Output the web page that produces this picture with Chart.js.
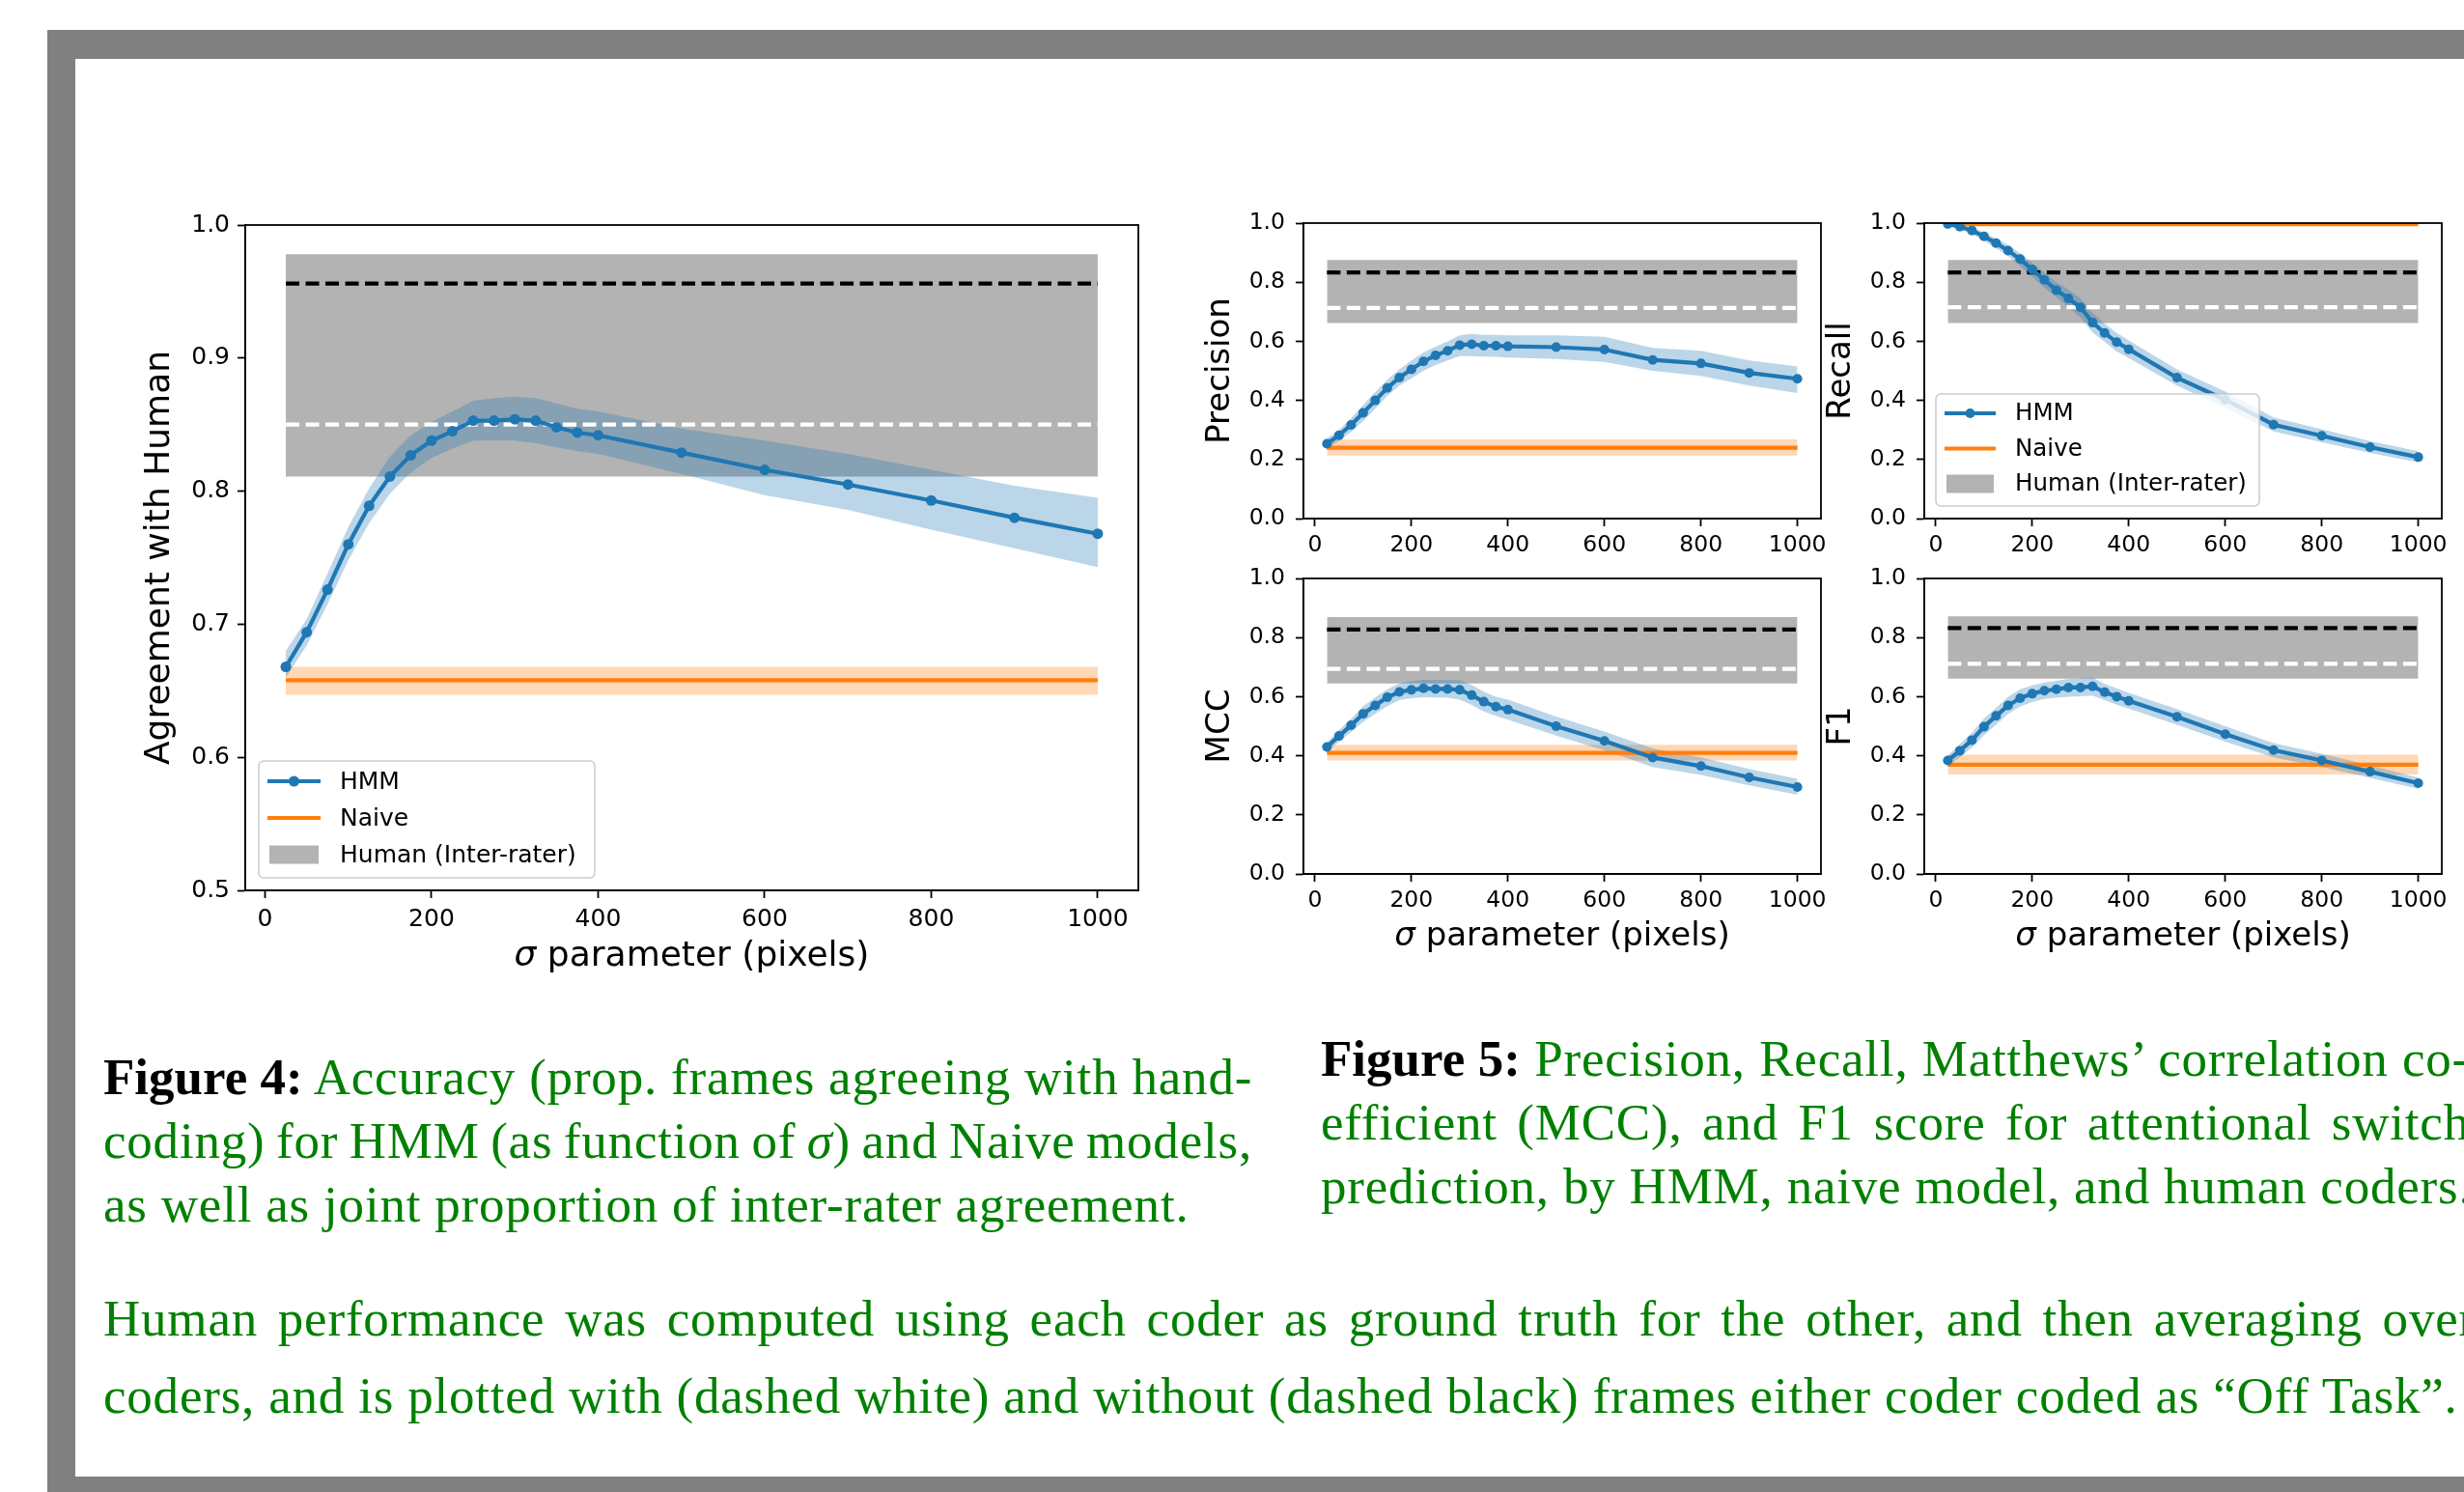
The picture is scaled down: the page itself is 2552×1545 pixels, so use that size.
<!DOCTYPE html>
<html>
<head>
<meta charset="utf-8">
<script src="https://cdn.jsdelivr.net/npm/chart.js@4.4.0/dist/chart.umd.min.js"></script>
<style>
html, body { margin: 0; padding: 0; background: #fff; width: 2552px; height: 1545px; overflow: hidden; }
#frame { position: absolute; left: 49px; top: 31px; width: 2600px; height: 1600px; background: #808080; }
#page { position: absolute; left: 78px; top: 61px; width: 2600px; height: 1468px; background: #fff; }
canvas { position: absolute; }
.cap { position: absolute; font-family: 'Liberation Serif', 'Times New Roman', serif; font-size: 53px; letter-spacing: 0.8px; color: #008000; }
.cap div { white-space: nowrap; text-align: justify; text-align-last: justify; }
.cap div.last { text-align-last: left; }
.cap div.tight { word-spacing: -4px; }
.cap b { color: #000; letter-spacing: 0; }
</style>
</head>
<body>
<div id="frame"></div>
<div id="page"></div>

<canvas id="accuracy" width="1100" height="819" style="left:124px;top:203px"></canvas>
<canvas id="precision" width="696" height="436" style="left:1230px;top:201px"></canvas>
<canvas id="recall" width="696" height="436" style="left:1873px;top:201px"></canvas>
<canvas id="mcc" width="696" height="436" style="left:1230px;top:569px"></canvas>
<canvas id="f1" width="696" height="436" style="left:1873px;top:569px"></canvas>

<div class="cap" style="left:107px;top:1082px;width:1190px;line-height:66px">
  <div><b>Figure 4:</b> Accuracy (prop. frames agreeing with hand-</div>
  <div class="tight">coding) for HMM (as function of <i>σ</i>) and Naive models,</div>
  <div class="last">as well as joint proportion of inter-rater agreement.</div>
</div>
<div class="cap" style="left:1368px;top:1063px;width:1190px;line-height:66px">
  <div><b>Figure 5:</b> Precision, Recall, Matthews’ correlation co-</div>
  <div>efficient (MCC), and F1 score for attentional switch</div>
  <div class="last">prediction, by HMM, naive model, and human coders.</div>
</div>
<div class="cap" style="left:107px;top:1325px;width:2458px;line-height:80px">
  <div>Human performance was computed using each coder as ground truth for the other, and then averaging over</div>
  <div class="last">coders, and is plotted with (dashed white) and without (dashed black) frames either coder coded as “Off Task”.</div>
</div>

<script>
const sigma = [25, 50, 75, 100, 125, 150, 175, 200, 225, 250, 275, 300, 325, 350, 375, 400, 500, 600, 700, 800, 900, 1000];
const xTicks = [0, 200, 400, 600, 800, 1000];
const accTicks = [0.5, 0.6, 0.7, 0.8, 0.9, 1.0];
const scoreTicks = [0.0, 0.2, 0.4, 0.6, 0.8, 1.0];
const legendLabels = ['HMM', 'Naive', 'Human (Inter-rater)'];

// accuracy (figure 4)
const accHmm   = [0.668, 0.694, 0.726, 0.760, 0.789, 0.811, 0.827, 0.838, 0.845, 0.853, 0.853, 0.854, 0.853, 0.848, 0.844, 0.842, 0.829, 0.816, 0.805, 0.793, 0.780, 0.768];
const accHmmLo = [0.660, 0.684, 0.715, 0.748, 0.776, 0.798, 0.814, 0.825, 0.832, 0.838, 0.838, 0.838, 0.836, 0.833, 0.830, 0.828, 0.813, 0.797, 0.786, 0.771, 0.757, 0.743];
const accHmmHi = [0.680, 0.704, 0.738, 0.773, 0.802, 0.826, 0.842, 0.852, 0.860, 0.868, 0.870, 0.871, 0.870, 0.866, 0.862, 0.860, 0.847, 0.838, 0.828, 0.816, 0.804, 0.795];
const accNaive = [0.658, 0.647, 0.668];          // line, band low, band high
const accHuman = [0.811, 0.978, 0.956, 0.850];   // band low, band high, dashed black, dashed white

// precision
const precHmm   = [0.253, 0.282, 0.317, 0.358, 0.400, 0.442, 0.477, 0.505, 0.532, 0.552, 0.568, 0.587, 0.590, 0.585, 0.585, 0.583, 0.580, 0.572, 0.537, 0.525, 0.493, 0.473];
const precHmmLo = [0.237, 0.262, 0.293, 0.330, 0.372, 0.415, 0.450, 0.475, 0.500, 0.520, 0.535, 0.550, 0.550, 0.548, 0.547, 0.545, 0.540, 0.530, 0.500, 0.483, 0.450, 0.425];
const precHmmHi = [0.272, 0.300, 0.340, 0.385, 0.428, 0.470, 0.505, 0.535, 0.562, 0.582, 0.600, 0.620, 0.625, 0.622, 0.622, 0.620, 0.620, 0.615, 0.578, 0.568, 0.535, 0.515];
const precNaive = [0.240, 0.213, 0.268];
const precHuman = [0.662, 0.875, 0.833, 0.713];

// recall
const recHmm   = [0.997, 0.988, 0.975, 0.955, 0.932, 0.907, 0.878, 0.843, 0.808, 0.773, 0.745, 0.715, 0.663, 0.628, 0.597, 0.573, 0.477, 0.402, 0.318, 0.280, 0.242, 0.208];
const recHmmLo = [0.990, 0.980, 0.963, 0.940, 0.915, 0.888, 0.855, 0.818, 0.782, 0.748, 0.715, 0.680, 0.630, 0.598, 0.565, 0.543, 0.450, 0.375, 0.295, 0.258, 0.222, 0.190];
const recHmmHi = [1.000, 0.995, 0.985, 0.968, 0.948, 0.926, 0.898, 0.865, 0.832, 0.800, 0.775, 0.745, 0.695, 0.660, 0.628, 0.603, 0.505, 0.430, 0.342, 0.302, 0.262, 0.228];
const recNaive = [0.996, 0.993, 0.999];
const recHuman = [0.662, 0.875, 0.833, 0.715];

// matthews correlation
const mccHmm   = [0.430, 0.467, 0.503, 0.542, 0.570, 0.598, 0.616, 0.623, 0.628, 0.626, 0.626, 0.623, 0.605, 0.583, 0.566, 0.556, 0.500, 0.450, 0.394, 0.365, 0.327, 0.294];
const mccHmmLo = [0.415, 0.447, 0.480, 0.515, 0.542, 0.568, 0.588, 0.595, 0.598, 0.597, 0.596, 0.590, 0.572, 0.550, 0.535, 0.522, 0.468, 0.418, 0.362, 0.335, 0.300, 0.268];
const mccHmmHi = [0.445, 0.487, 0.525, 0.568, 0.597, 0.625, 0.645, 0.652, 0.657, 0.657, 0.656, 0.655, 0.640, 0.617, 0.600, 0.590, 0.533, 0.482, 0.425, 0.395, 0.355, 0.322];
const mccNaive = [0.410, 0.384, 0.437];
const mccHuman = [0.645, 0.869, 0.827, 0.694];

// f1
const f1Hmm   = [0.384, 0.417, 0.453, 0.498, 0.535, 0.570, 0.595, 0.610, 0.620, 0.625, 0.631, 0.631, 0.635, 0.615, 0.600, 0.586, 0.532, 0.473, 0.419, 0.384, 0.346, 0.307];
const f1HmmLo = [0.365, 0.395, 0.428, 0.470, 0.505, 0.542, 0.567, 0.582, 0.592, 0.596, 0.600, 0.601, 0.604, 0.588, 0.573, 0.560, 0.505, 0.448, 0.395, 0.362, 0.325, 0.288];
const f1HmmHi = [0.400, 0.440, 0.478, 0.526, 0.562, 0.600, 0.625, 0.638, 0.648, 0.654, 0.660, 0.662, 0.665, 0.643, 0.628, 0.613, 0.558, 0.500, 0.443, 0.407, 0.368, 0.326];
const f1Naive = [0.370, 0.337, 0.404];
const f1Human = [0.661, 0.872, 0.832, 0.711];

const BLUE = '#1f77b4';
const ORANGE = '#ff7f0e';
const LW = 4.2;

const pts = ys => sigma.map((s, i) => ({ x: s, y: ys[i] }));
const flat = v => [{ x: sigma[0], y: v }, { x: sigma[sigma.length - 1], y: v }];

function buildDatasets(hmm, lo, hi, naive, human, big) {
    const dash = [14, 6.5];
    const base = { borderColor: 'transparent', borderWidth: 0, pointRadius: 0, tension: 0 };
    return [
        { ...base, data: flat(human[0]), order: 9 },
        { ...base, data: flat(human[1]), fill: '-1', backgroundColor: 'rgba(128,128,128,0.6)', order: 8 },
        { ...base, data: flat(naive[1]), order: 7 },
        { ...base, data: flat(naive[2]), fill: '-1', backgroundColor: 'rgba(255,127,14,0.3)', order: 6 },
        { ...base, data: pts(lo), order: 5 },
        { ...base, data: pts(hi), fill: '-1', backgroundColor: 'rgba(31,119,180,0.3)', order: 4 },
        { ...base, data: flat(naive[0]), borderColor: ORANGE, borderWidth: LW, order: 3 },
        { ...base, data: flat(human[2]), borderColor: '#000', borderWidth: LW, borderDash: dash, order: 2 },
        { ...base, data: flat(human[3]), borderColor: '#fff', borderWidth: LW, borderDash: dash, order: 1 },
        { data: pts(hmm), borderColor: BLUE, borderWidth: LW, tension: 0, pointRadius: big ? 5.5 : 5,
          pointBackgroundColor: BLUE, pointBorderWidth: 0, order: 0 },
    ];
}

// frame, axis titles and legend drawn on top of the chart
const decorPlugin = {
    id: 'decor',
    afterDraw(chart, args, o) {
        const ctx = chart.ctx;
        const a = chart.chartArea;
        ctx.save();
        ctx.strokeStyle = '#000';
        ctx.lineWidth = 1.8;
        ctx.strokeRect(a.left, a.top, a.right - a.left, a.bottom - a.top);

        ctx.fillStyle = '#000';
        ctx.textBaseline = 'middle';
        if (o.xTitle) {
            const f = o.titleSize + 'px "DejaVu Sans"';
            ctx.font = 'italic ' + f;
            const w1 = ctx.measureText('σ').width;
            ctx.font = f;
            const rest = ' parameter (pixels)';
            const w2 = ctx.measureText(rest).width;
            const x = (a.left + a.right) / 2 - (w1 + w2) / 2;
            const y = a.bottom + o.xTitleGap;
            ctx.textAlign = 'left';
            ctx.font = 'italic ' + f;
            ctx.fillText('σ', x, y);
            ctx.font = f;
            ctx.fillText(rest, x + w1, y);
        }
        ctx.save();
        ctx.translate(a.left - o.yTitleGap, (a.top + a.bottom) / 2);
        ctx.rotate(-Math.PI / 2);
        ctx.textAlign = 'center';
        ctx.font = o.titleSize + 'px "DejaVu Sans"';
        ctx.fillText(o.yTitle, 0, 0);
        ctx.restore();

        if (o.legend) {
            const L = o.legend;
            const x0 = a.left + L.dx;
            const y0 = a.bottom - L.dy - L.h;
            ctx.beginPath();
            ctx.roundRect(x0, y0, L.w, L.h, 5);
            ctx.fillStyle = 'rgba(255,255,255,0.8)';
            ctx.fill();
            ctx.strokeStyle = '#cccccc';
            ctx.lineWidth = 1.5;
            ctx.stroke();
            ctx.font = L.size + 'px "DejaVu Sans"';
            ctx.textAlign = 'left';
            legendLabels.forEach((label, i) => {
                const cy = y0 + L.first + i * L.step;
                const hx0 = x0 + 9, hx1 = x0 + L.handle;
                if (i === 2) {
                    ctx.fillStyle = 'rgba(128,128,128,0.6)';
                    ctx.fillRect(hx0 + 2, cy - 9.5, hx1 - hx0 - 4, 19);
                } else {
                    ctx.strokeStyle = i === 0 ? BLUE : ORANGE;
                    ctx.lineWidth = LW;
                    ctx.beginPath();
                    ctx.moveTo(hx0, cy);
                    ctx.lineTo(hx1, cy);
                    ctx.stroke();
                    if (i === 0) {
                        ctx.fillStyle = BLUE;
                        ctx.beginPath();
                        ctx.arc((hx0 + hx1) / 2, cy, L.dot, 0, Math.PI * 2);
                        ctx.fill();
                    }
                }
                ctx.fillStyle = '#000';
                ctx.fillText(label, x0 + L.text, cy + 1);
            });
        }
        ctx.restore();
    }
};

function makeChart(id, datasets, yTicks, big, decor) {
    const tickFont = { family: 'DejaVu Sans', size: big ? 25 : 23.5, lineHeight: 1.2 };
    const axisGrid = { drawOnChartArea: false, drawTicks: true, tickLength: 8, tickWidth: 1.8, tickColor: '#000' };
    new Chart(document.getElementById(id), {
        type: 'line',
        data: { datasets: datasets },
        plugins: [decorPlugin],
        options: {
            responsive: false,
            animation: false,
            devicePixelRatio: 1,
            events: [],
            layout: { padding: { top: 30, right: big ? 45 : 40, left: 0, bottom: 0 } },
            plugins: { legend: { display: false }, tooltip: { enabled: false }, decor: decor },
            scales: {
                x: {
                    type: 'linear', min: -23.75, max: 1048.75,
                    afterBuildTicks: s => { s.ticks = xTicks.map(v => ({ value: v })); },
                    afterFit: s => { s.height = 100; },
                    grid: axisGrid,
                    border: { color: '#000', width: 1.8 },
                    ticks: { color: '#000', font: tickFont, padding: big ? 7 : 6, maxRotation: 0, autoSkip: false,
                             callback: v => String(v) }
                },
                y: {
                    type: 'linear', min: yTicks[0], max: yTicks[yTicks.length - 1],
                    afterBuildTicks: s => { s.ticks = yTicks.map(v => ({ value: v })); },
                    afterFit: s => { s.width = big ? 130 : 120; },
                    grid: axisGrid,
                    border: { color: '#000', width: 1.8 },
                    ticks: { color: '#000', font: tickFont, padding: big ? 8 : 11, autoSkip: false,
                             callback: v => Number(v).toFixed(1) }
                }
            }
        }
    });
}

makeChart('accuracy', buildDatasets(accHmm, accHmmLo, accHmmHi, accNaive, accHuman, true), accTicks, true,
    { xTitle: true, xTitleGap: 69, yTitle: 'Agreement with Human', yTitleGap: 88, titleSize: 36,
      legend: { dx: 14, dy: 13, w: 348, h: 121, first: 21, step: 38, handle: 64, text: 84, size: 25, dot: 5.5 } });

makeChart('precision', buildDatasets(precHmm, precHmmLo, precHmmHi, precNaive, precHuman, false), scoreTicks, false,
    { xTitle: false, yTitle: 'Precision', yTitleGap: 86, titleSize: 34 });

makeChart('recall', buildDatasets(recHmm, recHmmLo, recHmmHi, recNaive, recHuman, false), scoreTicks, false,
    { xTitle: false, yTitle: 'Recall', yTitleGap: 86, titleSize: 34,
      legend: { dx: 12, dy: 13, w: 335, h: 116, first: 20, step: 36.5, handle: 62, text: 82, size: 24.5, dot: 5 } });

makeChart('mcc', buildDatasets(mccHmm, mccHmmLo, mccHmmHi, mccNaive, mccHuman, false), scoreTicks, false,
    { xTitle: true, xTitleGap: 65, yTitle: 'MCC', yTitleGap: 86, titleSize: 34 });

makeChart('f1', buildDatasets(f1Hmm, f1HmmLo, f1HmmHi, f1Naive, f1Human, false), scoreTicks, false,
    { xTitle: true, xTitleGap: 65, yTitle: 'F1', yTitleGap: 86, titleSize: 34 });
</script>
</body>
</html>
